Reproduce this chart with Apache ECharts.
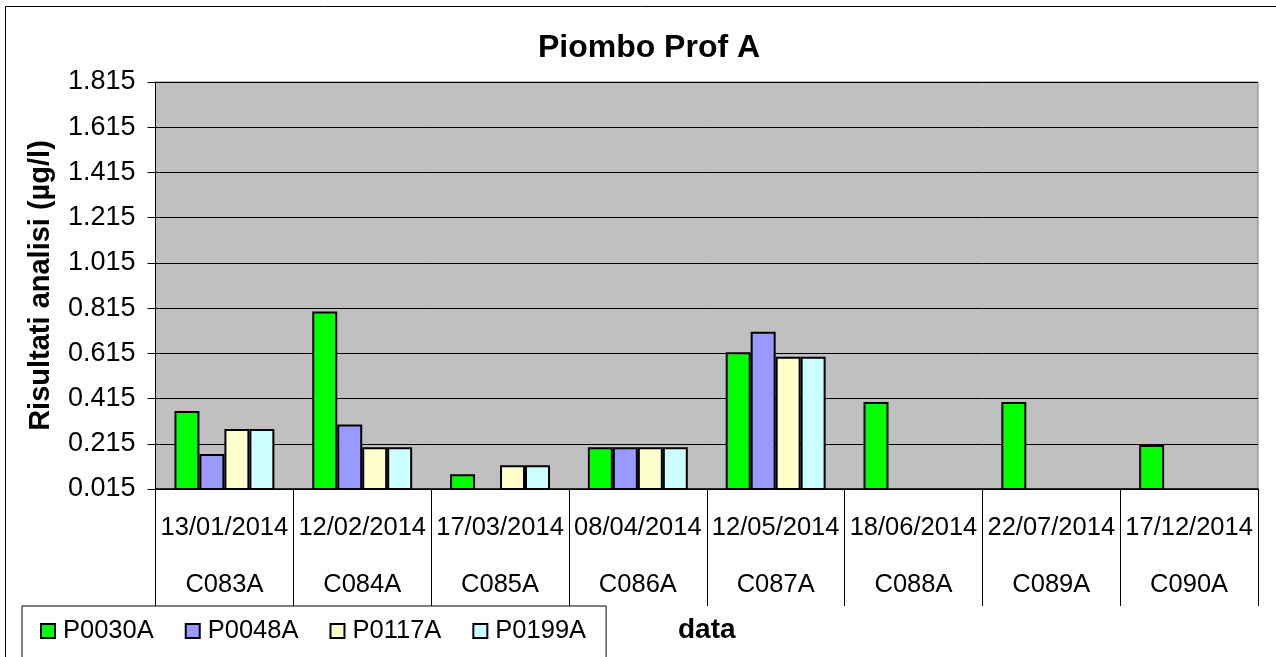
<!DOCTYPE html>
<html>
<head>
<meta charset="utf-8">
<script src="https://cdn.jsdelivr.net/npm/echarts@6/dist/echarts.min.js"></script>
<style>
html,body{margin:0;padding:0;background:#fff;}
#chart{width:1276px;height:657px;}
</style>
</head>
<body>
<div id="chart"></div>
<script>
const dates = ['13/01/2014','12/02/2014','17/03/2014','08/04/2014','12/05/2014','18/06/2014','22/07/2014','17/12/2014'];
const codes = ['C083A','C084A','C085A','C086A','C087A','C088A','C089A','C090A'];
const seriesNames = ['P0030A','P0048A','P0117A','P0199A'];
const P0030A = [0.36, 0.80, 0.08, 0.20, 0.62, 0.40, 0.40, 0.21];
const P0048A = [0.17, 0.30, null, 0.20, 0.71, null, null, null];
const P0117A = [0.28, 0.20, 0.12, 0.20, 0.60, null, null, null];
const P0199A = [0.28, 0.20, 0.12, 0.20, 0.60, null, null, null];
const yMin = 0.015, yMax = 1.815, yStep = 0.2;

const seriesData = [P0030A, P0048A, P0117A, P0199A];
const colors = ['#00FF00', '#9999FF', '#FFFFCC', '#CCFFFF'];
const FONT = '"Liberation Sans", Arial, sans-serif';

const chart = echarts.init(document.getElementById('chart'), null, {renderer: 'canvas'});
chart.setOption({
  animation: false,
  backgroundColor: '#ffffff',
  textStyle: {fontFamily: FONT, color: '#000'},
  title: {
    text: 'Piombo Prof A',
    left: 644, top: 27, textAlign: 'center',
    textStyle: {fontFamily: FONT, fontSize: 32, fontWeight: 'bold', color: '#000'}
  },
  graphic: [{
    type: 'rect', silent: true, z: -10,
    shape: {x: 5.5, y: 6.5, width: 1300, height: 700},
    style: {fill: 'none', stroke: '#000', lineWidth: 1}
  }],
  legend: {
    data: seriesNames,
    orient: 'horizontal',
    left: 22, top: 606,
    padding: [12, 20, 40, 18],
    itemGap: 31,
    itemWidth: 14, itemHeight: 14,
    icon: 'rect',
    borderColor: '#000', borderWidth: 1,
    backgroundColor: '#fff',
    textStyle: {fontFamily: FONT, fontSize: 25.5, color: '#000', padding: [0, 0, 0, 3]}
  },
  grid: {
    left: 155.5, right: 18, top: 82, bottom: 168,
    show: true, backgroundColor: '#C0C0C0', borderColor: '#808080', borderWidth: 1
  },
  xAxis: [{
    type: 'category', data: dates, position: 'bottom',
    axisLine: {show: true, lineStyle: {color: '#000', width: 1.5}},
    axisTick: {show: true, length: 117, interval: 0, alignWithLabel: false, lineStyle: {color: '#000', width: 1}},
    axisLabel: {interval: 0, margin: 26, fontFamily: FONT, fontSize: 25.5, color: '#000'},
    splitLine: {show: false}
  }, {
    type: 'category', data: codes, position: 'bottom', offset: 0,
    axisLine: {show: false}, axisTick: {show: false},
    axisLabel: {interval: 0, margin: 83, fontFamily: FONT, fontSize: 25.5, color: '#000'},
    name: 'data', nameLocation: 'middle', nameGap: 127,
    nameTextStyle: {fontFamily: FONT, fontSize: 28, fontWeight: 'bold', color: '#000'}
  }],
  yAxis: {
    type: 'value', min: yMin, max: yMax, interval: yStep,
    name: 'Risultati analisi (µg/l)', nameLocation: 'middle', nameRotate: 90, nameGap: 100,
    nameTextStyle: {fontFamily: FONT, fontSize: 29, fontWeight: 'bold', color: '#000'},
    axisLine: {show: true, lineStyle: {color: '#000', width: 1}},
    axisTick: {show: true, length: 8, lineStyle: {color: '#000'}},
    axisLabel: {margin: 20, fontFamily: FONT, fontSize: 27, color: '#000', formatter: v => v.toFixed(3)},
    splitLine: {show: true, lineStyle: {color: '#000', width: 1}}
  },
  series: seriesNames.map((n, i) => ({
    name: n, type: 'bar', xAxisIndex: 0, data: seriesData[i],
    barGap: '0%', barCategoryGap: '27.5%',
    itemStyle: {color: colors[i], borderColor: '#000', borderWidth: 2}
  }))
});
</script>
</body>
</html>
